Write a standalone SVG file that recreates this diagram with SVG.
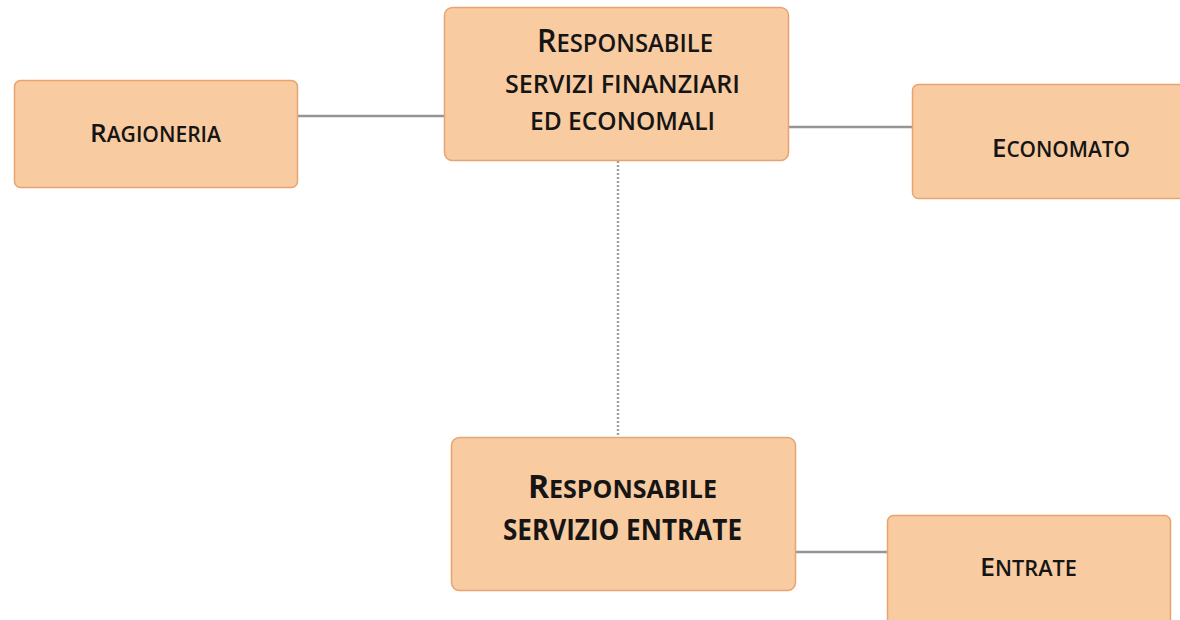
<svg xmlns="http://www.w3.org/2000/svg" width="1180" height="620" viewBox="0 0 1180 620">
<style>
.box{fill:#F9CBA0;stroke:#E8A470;stroke-width:1.5}
.t{font-family:"Open Sans","DejaVu Sans",sans-serif;font-weight:600;fill:#151515;text-anchor:middle}
.b{font-weight:700}
.con{stroke:#959595;stroke-width:2.5;fill:none}
.dot{stroke:#A0A0A0;stroke-width:2.5;stroke-dasharray:2 2;fill:none}
</style>
<rect width="1180" height="620" fill="#FFFFFF"/>
<g id="connectors">
<line class="con" x1="298" y1="116" x2="444" y2="116"/>
<line class="con" x1="789" y1="127" x2="912" y2="127"/>
<line class="dot" x1="618" y1="161" x2="618" y2="437"/>
<line class="con" x1="796" y1="552" x2="887" y2="552"/>
</g>
<g id="resp-finanziari">
<rect class="box" x="444.5" y="7.5" width="344" height="153" rx="8"/>
<text class="t" x="625" y="52" textLength="176" lengthAdjust="spacingAndGlyphs"><tspan font-size="32">R</tspan><tspan font-size="25">ESPONSABILE</tspan></text>
<text class="t" x="622.5" y="93" font-size="25" textLength="235" lengthAdjust="spacingAndGlyphs">SERVIZI FINANZIARI</text>
<text class="t" x="622.5" y="130" font-size="25" textLength="185" lengthAdjust="spacingAndGlyphs">ED ECONOMALI</text>
</g>
<g id="ragioneria">
<rect class="box" x="14.5" y="80.5" width="283" height="107" rx="6"/>
<text class="t" x="155.5" y="142" textLength="131" lengthAdjust="spacingAndGlyphs"><tspan font-size="26">R</tspan><tspan font-size="21">AGIONERIA</tspan></text>
</g>
<g id="economato">
<rect class="box" x="912.5" y="84.5" width="300" height="114" rx="6"/>
<text class="t" x="1061" y="156.5" textLength="138" lengthAdjust="spacingAndGlyphs"><tspan font-size="26">E</tspan><tspan font-size="21">CONOMATO</tspan></text>
</g>
<g id="resp-entrate">
<rect class="box" x="451.5" y="437.5" width="344" height="153" rx="8"/>
<text class="t b" x="622.5" y="498" textLength="189" lengthAdjust="spacingAndGlyphs"><tspan font-size="32">R</tspan><tspan font-size="25">ESPONSABILE</tspan></text>
<text class="t b" x="622.5" y="540" font-size="28" textLength="239" lengthAdjust="spacingAndGlyphs">SERVIZIO ENTRATE</text>
</g>
<g id="entrate">
<rect class="box" x="887.5" y="515.5" width="283" height="114" rx="6"/>
<text class="t" x="1028.5" y="576" textLength="97" lengthAdjust="spacingAndGlyphs"><tspan font-size="26">E</tspan><tspan font-size="21">NTRATE</tspan></text>
</g>
</svg>
